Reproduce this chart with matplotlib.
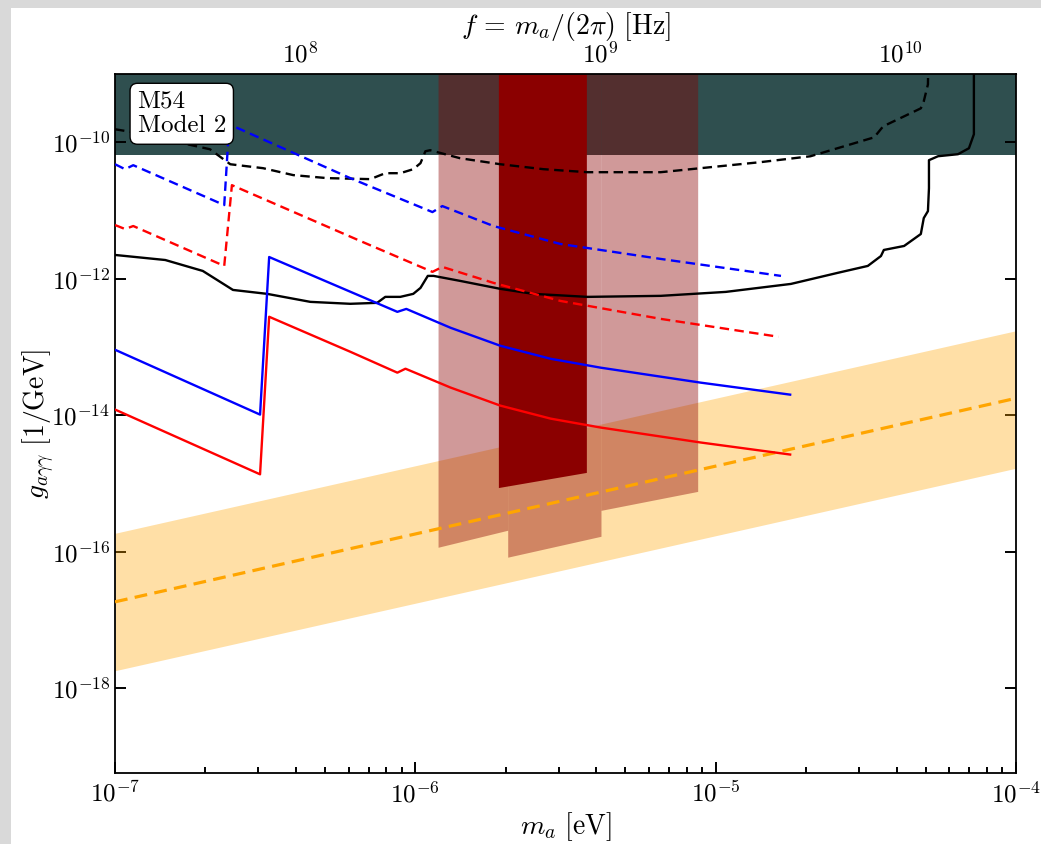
import numpy as np
import matplotlib
matplotlib.use("Agg")
import matplotlib.pyplot as plt
from matplotlib.ticker import FixedLocator, LogLocator, NullLocator, NullFormatter

plt.rcParams["mathtext.fontset"] = "cm"
plt.rcParams["font.family"] = "serif"
plt.rcParams["font.serif"] = ["cmr10"]
plt.rcParams["axes.formatter.use_mathtext"] = True

HZ_PER_EV = 2.418e14  # f = m_a / (2 pi hbar)

# black solid limit
m_black = [1.0e-7, 1.47e-7, 1.96e-7, 2.47e-7, 3.21e-7, 4.47e-7, 6.07e-7, 7.46e-7,
           7.94e-7, 8.91e-7, 9.84e-7, 1.04e-6, 1.10e-6, 1.15e-6, 1.41e-6, 1.92e-6,
           2.47e-6, 3.74e-6, 6.56e-6, 1.08e-5, 1.78e-5, 2.55e-5, 3.21e-5, 3.55e-5,
           3.63e-5, 4.24e-5, 4.82e-5, 4.93e-5, 5.09e-5, 5.13e-5, 5.13e-5, 5.50e-5,
           6.41e-5, 6.97e-5, 7.24e-5, 7.24e-5]
g_black = [2.23e-12, 1.88e-12, 1.30e-12, 6.85e-13, 6.0e-13, 4.58e-13, 4.29e-13, 4.43e-13,
           5.42e-13, 5.42e-13, 6.0e-13, 7.33e-13, 1.10e-12, 1.10e-12, 9.29e-13, 7.10e-13,
           6.0e-13, 5.42e-13, 5.61e-13, 6.41e-13, 8.39e-13, 1.22e-12, 1.54e-12, 2.15e-12,
           2.64e-12, 3.02e-12, 4.52e-12, 7.74e-12, 9.79e-12, 2.12e-11, 5.46e-11, 6.24e-11,
           6.68e-11, 8.17e-11, 1.31e-10, 1e-8]

# black dashed limit
m_black_d = [1.0e-7, 1.13e-7, 2.07e-7, 2.42e-7, 3.11e-7, 3.92e-7, 5.09e-7, 7.08e-7,
             7.94e-7, 8.91e-7, 9.84e-7, 1.04e-6, 1.08e-6, 1.12e-6, 1.41e-6, 1.92e-6,
             2.67e-6, 3.74e-6, 6.56e-6, 1.41e-5, 2.07e-5, 3.37e-5, 3.61e-5, 4.82e-5,
             4.93e-5, 5.09e-5, 5.13e-5]
g_black_d = [1.55e-10, 1.42e-10, 7.9e-11, 4.76e-11, 4.17e-11, 3.30e-11, 2.98e-11, 2.88e-11,
             3.52e-11, 3.52e-11, 4.03e-11, 4.93e-11, 7.38e-11, 7.64e-11, 5.83e-11, 4.76e-11,
             4.03e-11, 3.64e-11, 3.64e-11, 5.11e-11, 6.24e-11, 1.18e-10, 1.71e-10, 3.14e-10,
             3.98e-10, 7.05e-10, 1e-8]

# blue / red solid
m_blue = [1.0e-7, 3.04e-7, 3.26e-7, 8.71e-7, 9.33e-7, 1.31e-6, 1.92e-6, 2.82e-6,
          4.14e-6, 8.91e-6, 1.77e-5]
g_blue = [9.1e-14, 1.02e-14, 2.08e-12, 3.27e-13, 3.61e-13, 1.91e-13, 1.04e-13, 6.71e-14,
          4.97e-14, 3.0e-14, 2.0e-14]
m_red = [1.0e-7, 3.04e-7, 3.26e-7, 6.07e-7, 8.71e-7, 9.27e-7, 1.31e-6, 1.92e-6,
         2.82e-6, 4.14e-6, 8.91e-6, 1.77e-5]
g_red = [1.21e-14, 1.36e-15, 2.77e-13, 8.51e-14, 4.2e-14, 4.8e-14, 2.54e-14, 1.38e-14,
         8.91e-15, 6.59e-15, 3.98e-15, 2.65e-15]

# blue / red dashed
m_blue_d = [1.0e-7, 1.08e-7, 1.15e-7, 2.31e-7, 2.40e-7, 6.07e-7, 1.14e-6, 1.23e-6,
            1.82e-6, 3.04e-6, 6.56e-6, 1.65e-5]
g_blue_d = [4.76e-11, 4.03e-11, 4.61e-11, 1.20e-11, 1.83e-10, 2.98e-11, 9.48e-12, 1.16e-11,
            5.92e-12, 3.23e-12, 1.95e-12, 1.10e-12]
m_red_d = [1.0e-7, 1.08e-7, 1.15e-7, 2.31e-7, 2.45e-7, 6.56e-7, 1.14e-6, 1.23e-6,
           1.82e-6, 3.04e-6, 6.56e-6, 1.62e-5]
g_red_d = [6.12e-12, 5.35e-12, 5.92e-12, 1.54e-12, 2.35e-11, 3.57e-12, 1.26e-12, 1.49e-12,
           8.69e-13, 4.73e-13, 2.58e-13, 1.41e-13]

# haloscope regions (mass edges, lower boundary)
m_hA = [1.19e-6, 2.03e-6]
g_hA = [1.16e-16, 2.06e-16]
m_hB = [2.03e-6, 4.15e-6]
g_hB = [8.3e-17, 1.68e-16]
m_hC = [4.15e-6, 8.71e-6]
g_hC = [4.03e-16, 7.64e-16]
m_hD = [1.89e-6, 3.71e-6]
g_hD = [8.7e-16, 1.45e-15]

# QCD axion band
m_qcd = [1e-7, 1e-4]
g_qcd = [1.84e-17, 1.77e-14]
g_qcd_lo = [1.80e-18, 1.67e-15]
g_qcd_hi = [1.86e-16, 1.73e-13]

g_cast = 6.6e-11
g_top = 1e-8

fig = plt.figure(figsize=(10.41, 8.44), dpi=100, facecolor="#d9d9d9")
fig.patches.append(plt.Rectangle((11 / 1041, 0), 1, 1 - 8 / 844, transform=fig.transFigure,
                                 facecolor="white", edgecolor="none", zorder=-10))
ax = fig.add_axes([0.1105, 0.0841, 0.8655, 0.8282])
ax.set_xscale("log")
ax.set_yscale("log")

ax.fill_between([1e-8, 1e-3], g_cast, g_top, color="darkslategray", lw=0, zorder=1)
ax.fill_between(m_qcd, g_qcd_lo, g_qcd_hi, color="orange", alpha=0.35, lw=0, zorder=2)
for mm, gg in [(m_hA, g_hA), (m_hB, g_hB), (m_hC, g_hC)]:
    ax.fill_between(mm, gg, g_top, color="darkred", alpha=0.4, lw=0, zorder=2)
ax.fill_between(m_hD, g_hD, g_top, color="darkred", lw=0, zorder=2)

dash = (4, 2.3)
ax.plot(m_qcd, g_qcd, color="orange", ls="--", dashes=dash, lw=2.3, zorder=3)
ax.plot(m_black, g_black, color="black", lw=1.7, zorder=4)
ax.plot(m_black_d, g_black_d, color="black", ls="--", dashes=dash, lw=1.7, zorder=4)
ax.plot(m_blue, g_blue, color="blue", lw=1.7, zorder=4)
ax.plot(m_red, g_red, color="red", lw=1.7, zorder=4)
ax.plot(m_blue_d, g_blue_d, color="blue", ls="--", dashes=dash, lw=1.7, zorder=4)
ax.plot(m_red_d, g_red_d, color="red", ls="--", dashes=dash, lw=1.7, zorder=4)

ax.set_xlim(1e-7, 1e-4)
ax.set_ylim(5.7e-20, 1e-9)
ax.set_yticks([1e-18, 1e-16, 1e-14, 1e-12, 1e-10])
ax.yaxis.set_minor_locator(NullLocator())
ax.tick_params(which="both", direction="in", top=False, right=True, labelsize=18, width=1.4)
ax.tick_params(which="major", length=8)
ax.tick_params(which="minor", length=4)
ax.tick_params(axis="x", pad=6)
for s in ax.spines.values():
    s.set_linewidth(1.3)

ax.set_xlabel(r"$m_a\ [\mathrm{eV}]$", fontsize=20, labelpad=2)
ax.set_ylabel(r"$g_{a\gamma\gamma}\ [1/\mathrm{GeV}]$", fontsize=20, labelpad=-4)

sec = ax.secondary_xaxis("top", functions=(lambda m: m * HZ_PER_EV, lambda f: f / HZ_PER_EV))
sec.xaxis.set_major_locator(FixedLocator([1e8, 1e9, 1e10]))
sec.xaxis.set_minor_locator(LogLocator(base=10, subs=np.arange(2, 10), numticks=20))
sec.xaxis.set_minor_formatter(NullFormatter())
sec.tick_params(which="both", direction="in", labelsize=18, width=1.4, pad=5)
sec.tick_params(which="major", length=8)
sec.tick_params(which="minor", length=4)
sec.set_xlabel(r"$f\, =\, m_a/(2\pi)\ [\mathrm{Hz}]$", fontsize=20, labelpad=5)

ax.text(0.025, 0.976, "M54\nModel 2", transform=ax.transAxes, fontsize=18,
        va="top", ha="left", zorder=6, linespacing=1.1,
        bbox=dict(boxstyle="round,pad=0.3", facecolor="white", edgecolor="black"))

fig.savefig("out.png", dpi=100, facecolor=fig.get_facecolor())
